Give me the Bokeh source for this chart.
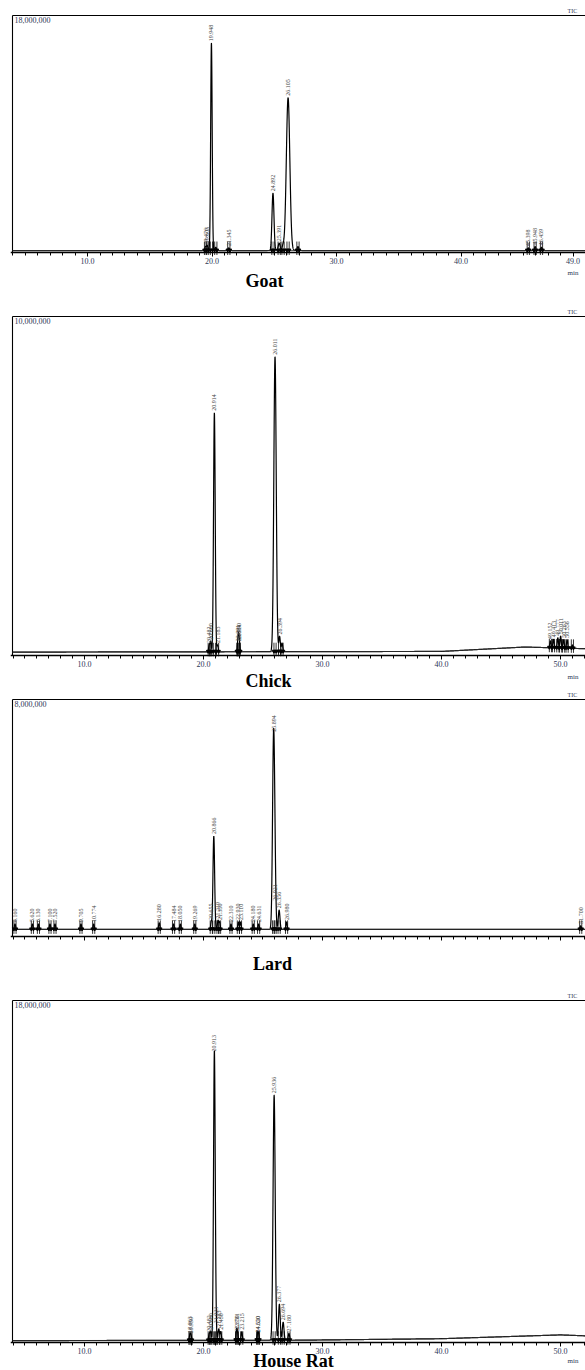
import numpy as np
from bokeh.plotting import figure
from bokeh.layouts import column
from bokeh.models import FixedTicker, Label, ColumnDataSource
from bokeh.embed import file_html
from bokeh.resources import INLINE
from bokeh.core.properties import value

# ---------------- data (retention time in min, peak height above baseline in counts) -------------
goat_rt  = [19.476, 19.605, 19.948, 20.30, 21.345, 24.892, 25.391, 25.70, 26.105, 26.90, 45.398, 45.948, 46.459]
goat_ht  = [0.30e6, 0.40e6, 15.75e6, 0.25e6, 0.20e6, 4.35e6, 0.55e6, 0.35e6, 11.6e6, 0.30e6, 0.20e6, 0.30e6, 0.25e6]
goat_wd  = [0.05, 0.05, 0.06, 0.05, 0.05, 0.08, 0.08, 0.08, 0.14, 0.06, 0.05, 0.05, 0.05]
goat_lbl = ["19.476", "19.605", "19.948", "", "21.345", "24.892", "25.391", "", "26.105", "", "45.398", "45.948", "46.459"]
goat_base_t = [3.97, 50.0]
goat_base_v = [0.15e6, 0.15e6]

chick_rt  = [20.482, 20.60, 20.914, 21.183, 22.891, 22.950, 23.004, 26.011, 26.394, 26.60,
             49.152, 49.413, 49.777, 50.011, 50.263, 50.556, 51.00]
chick_ht  = [0.20e6, 0.30e6, 7.05e6, 0.20e6, 0.25e6, 0.30e6, 0.25e6, 8.70e6, 0.45e6, 0.25e6,
             0.20e6, 0.25e6, 0.30e6, 0.35e6, 0.25e6, 0.25e6, 0.10e6]
chick_wd  = [0.05, 0.05, 0.07, 0.05, 0.05, 0.05, 0.05, 0.10, 0.06, 0.06,
             0.05, 0.05, 0.05, 0.05, 0.05, 0.05, 0.05]
chick_lbl = ["20.482", "20.600", "20.914", "21.183", "22.891", "22.950", "23.004", "26.011", "26.394", "",
             "49.152", "49.413", "49.777", "50.011", "50.263", "50.556", ""]
chick_base_t = [3.95, 40.0, 47.0, 52.1]
chick_base_v = [0.10e6, 0.12e6, 0.25e6, 0.20e6]

lard_rt  = [4.160, 5.620, 6.130, 7.100, 7.520, 9.705, 10.774, 16.280, 17.484, 18.050, 19.269,
            20.655, 20.866, 21.219, 21.350, 22.310, 22.930, 23.110, 24.180, 24.631,
            25.894, 26.021, 26.356, 26.980, 51.700]
lard_ht  = [0.18e6, 0.18e6, 0.18e6, 0.18e6, 0.18e6, 0.18e6, 0.18e6, 0.22e6, 0.18e6, 0.18e6, 0.18e6,
            0.25e6, 3.15e6, 0.30e6, 0.25e6, 0.18e6, 0.25e6, 0.25e6, 0.18e6, 0.18e6,
            6.60e6, 0.90e6, 0.65e6, 0.25e6, 0.12e6]
lard_wd  = [0.05] * 12 + [0.07] + [0.05] * 7 + [0.09, 0.07, 0.07, 0.05, 0.05]
lard_lbl = ["4.160", "5.620", "6.130", "7.100", "7.520", "9.705", "10.774", "16.280", "17.484", "18.050", "19.269",
            "20.655", "20.866", "21.219", "21.350", "22.310", "22.930", "23.110", "24.180", "24.631",
            "25.894", "26.021", "26.356", "26.980", "51.700"]
lard_base_t = [3.95, 52.1]
lard_base_v = [0.24e6, 0.24e6]

rat_rt  = [18.863, 18.950, 20.482, 20.600, 20.913, 21.023, 21.283, 21.450, 22.781, 22.850, 23.215,
           24.550, 24.620, 25.936, 26.377, 26.694, 27.180]
rat_ht  = [0.30e6, 0.25e6, 0.35e6, 0.45e6, 15.1e6, 0.80e6, 0.60e6, 0.45e6, 0.45e6, 0.35e6, 0.45e6,
           0.30e6, 0.30e6, 12.9e6, 1.90e6, 0.95e6, 0.35e6]
rat_wd  = [0.05, 0.05, 0.05, 0.05, 0.07, 0.06, 0.06, 0.05, 0.05, 0.05, 0.05,
           0.05, 0.05, 0.09, 0.07, 0.07, 0.06]
rat_lbl = ["18.863", "18.950", "20.482", "20.600", "20.913", "21.023", "21.283", "21.450", "22.781", "22.850", "23.215",
           "24.550", "24.620", "25.936", "26.377", "26.694", "27.180"]
rat_base_t = [3.95, 28.0, 40.0, 50.0, 52.1]
rat_base_v = [0.10e6, 0.12e6, 0.20e6, 0.40e6, 0.35e6]

goat_ticks = [10, 20, 30, 40, 49]
std_ticks = [10, 20, 30, 40, 50]

SERIF = "Liberation Serif"
BLUEGRAY = "#2d3856"
FIG_W = 585
LEFT = 10          # frame starts 2px left of the chart's left border line


def panel(name, rt, ht, wd, lbl, bt, bv, ymax, ymax_txt, t_left, pxpm, ticks, minor,
          show_ticklabels, fig_h, top_px, frame_px, title_t, title_dy, min_dy, show_min=True):
    upp = ymax / frame_px
    y0 = -(fig_h - top_px - frame_px) * upp
    y1 = ymax + top_px * upp
    x0 = t_left - 2.0 / pxpm
    x1 = x0 + (FIG_W - LEFT) / pxpm
    p = figure(width=FIG_W, height=fig_h, x_range=(x0, x1), y_range=(y0, y1),
               output_backend="svg", toolbar_location=None,
               min_border_left=LEFT, min_border_right=0, min_border_top=0, min_border_bottom=0)
    p.xgrid.visible = False
    p.ygrid.visible = False
    p.yaxis.visible = False
    p.outline_line_color = None
    p.background_fill_color = "white"
    p.border_fill_color = "white"

    ax = p.xaxis[0]
    ax.fixed_location = 0
    ax.ticker = FixedTicker(ticks=ticks, minor_ticks=minor)
    ax.major_label_overrides = {t: f"{t:.1f}" for t in ticks}
    ax.axis_line_width = 1.4
    ax.major_tick_out = 4
    ax.major_tick_in = 0
    ax.minor_tick_out = 3
    ax.minor_tick_in = 0
    ax.major_label_standoff = 1
    ax.major_label_text_font = SERIF
    ax.major_label_text_font_size = "8px"
    ax.major_label_text_color = BLUEGRAY
    if not show_ticklabels:
        ax.major_label_text_alpha = 0

    # frame borders (left and top)
    p.segment(x0=[t_left, t_left], y0=[0, ymax], x1=[t_left, x1], y1=[ymax, ymax],
              line_color="black", line_width=1.1)

    t = np.arange(t_left, x1, 0.004)
    base = np.interp(t, bt, bv)
    y = base.copy()
    for r, h, w in zip(rt, ht, wd):
        y = y + h * np.exp(-0.5 * ((t - r) / w) ** 2)
    p.line(t, y, line_color="black", line_width=1.2)

    # integration baseline
    p.line(bt, bv, line_color="#333333", line_width=0.8)

    # peak start/end markers
    dy = 9.0 * upp
    pb = np.interp(rt, bt, bv)
    xs = []
    for r in rt:
        xs += [r - 0.09, r + 0.09]
    yb = np.interp(xs, bt, bv)
    p.segment(x0=xs, y0=yb - dy * 0.5, x1=xs, y1=yb + dy, line_color="black", line_width=0.8)
    p.scatter(x=xs, y=yb + dy * 0.05, marker="inverted_triangle", size=3.5,
              fill_color="black", line_color="black")

    # peak labels
    keep = [i for i, s in enumerate(lbl) if s]
    src = ColumnDataSource(dict(x=[rt[i] for i in keep],
                                y=[pb[i] + ht[i] + 2 * upp for i in keep],
                                txt=[lbl[i] for i in keep]))
    p.text(x="x", y="y", text="txt", source=src, angle=np.pi / 2,
           text_align="left", text_baseline="middle",
           text_font=value(SERIF), text_font_size="6px", text_color="#444444")

    p.add_layout(Label(x=t_left, y=ymax, x_offset=2, y_offset=-1, text=ymax_txt,
                       text_baseline="top", text_align="left",
                       text_font=SERIF, text_font_size="8px", text_color=BLUEGRAY))
    p.add_layout(Label(x=x1, y=ymax, x_offset=-18, y_offset=2, text="TIC",
                       text_baseline="bottom", text_align="left",
                       text_font=SERIF, text_font_size="6px", text_color=BLUEGRAY))
    if show_min:
        p.add_layout(Label(x=x1, y=0, x_offset=-18, y_offset=-min_dy, text="min",
                           text_baseline="top", text_align="left",
                           text_font=SERIF, text_font_size="7px", text_color=BLUEGRAY))
    p.add_layout(Label(x=title_t, y=0, y_offset=-title_dy, text=name,
                       text_baseline="middle", text_align="center",
                       text_font=SERIF, text_font_style="bold", text_font_size="18px",
                       text_color="black"))
    return p


p1 = panel("Goat", goat_rt, goat_ht, goat_wd, goat_lbl, goat_base_t, goat_base_v,
           18e6, "18,000,000", 3.97, 12.45, goat_ticks, list(range(4, 50)), True,
           307, 15, 237, 24.21, 28, 16)
p2 = panel("Chick", chick_rt, chick_ht, chick_wd, chick_lbl, chick_base_t, chick_base_v,
           10e6, "10,000,000", 3.95, 11.9, std_ticks, list(range(4, 53)), True,
           383, 9, 339, 25.46, 25, 17)
p3 = panel("Lard", lard_rt, lard_ht, lard_wd, lard_lbl, lard_base_t, lard_base_v,
           8e6, "8,000,000", 3.95, 11.9, std_ticks, list(range(4, 53)), False,
           301, 9, 237, 25.8, 27, 17, show_min=False)
p4 = panel("House Rat", rat_rt, rat_ht, rat_wd, rat_lbl, rat_base_t, rat_base_v,
           18e6, "18,000,000", 3.95, 11.9, std_ticks, list(range(4, 53)), True,
           378, 9, 342, 27.56, 18, 14)

layout = column(p1, p2, p3, p4, spacing=0)
open("out.html", "w").write(file_html(layout, INLINE))
